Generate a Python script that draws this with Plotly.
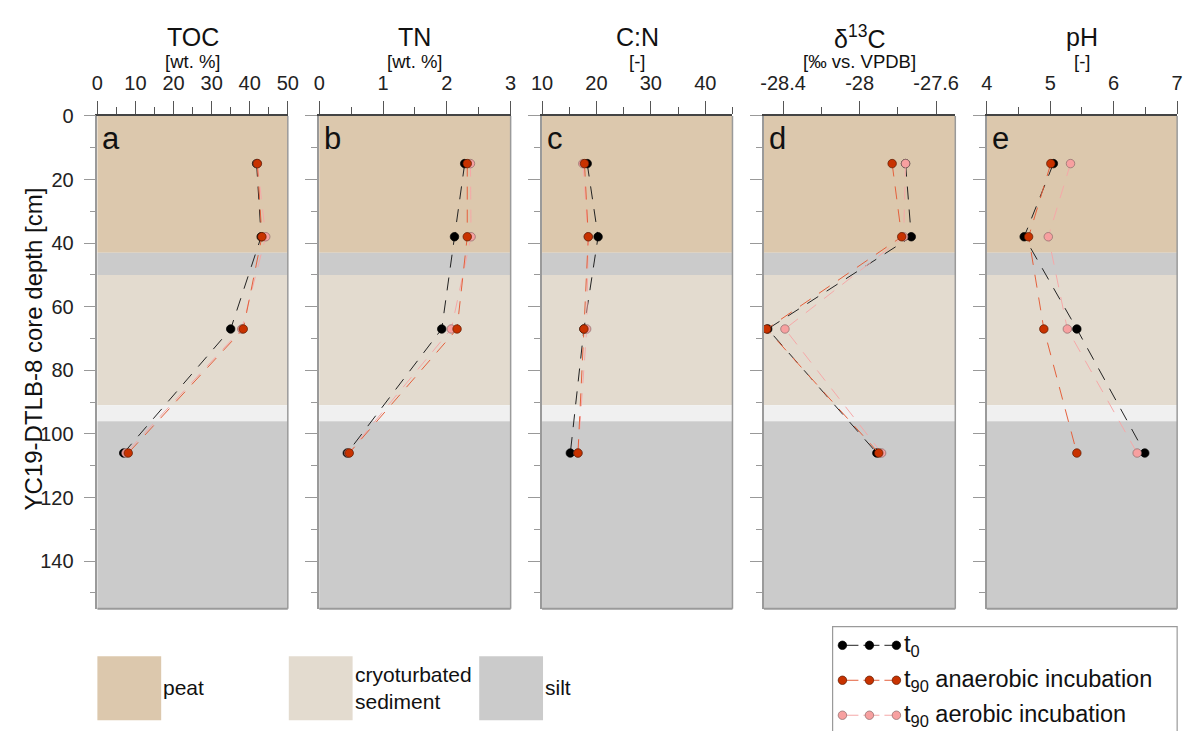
import plotly.graph_objects as go

# ---------------- data ----------------
depth = [15, 38, 67, 106]

toc_t0 = [41.8, 43.0, 35.0, 6.9]
toc_an = [42.0, 43.2, 38.3, 8.1]
toc_ae = [42.0, 44.2, 37.9, 7.5]

tn_t0 = [2.28, 2.12, 1.92, 0.44]
tn_an = [2.32, 2.32, 2.16, 0.47]
tn_ae = [2.37, 2.38, 2.07, 0.46]

cn_t0 = [18.3, 20.3, 17.7, 15.2]
cn_an = [17.8, 18.5, 17.7, 16.6]
cn_ae = [17.5, 18.5, 18.2, 16.6]

d13c_t0 = [-27.76, -27.73, -28.48, -27.91]
d13c_an = [-27.83, -27.78, -28.485, -27.90]
d13c_ae = [-27.76, -27.77, -28.39, -27.885]

ph_t0 = [5.05, 4.59, 5.42, 6.49]
ph_an = [5.01, 4.66, 4.90, 5.42]
ph_ae = [5.32, 4.97, 5.27, 6.37]

panel_titles = ["TOC", "TN", "C:N", "δ<sup>13</sup>C", "pH"]
panel_units = ["[wt. %]", "[wt. %]", "[-]", "[‰ vs. VPDB]", "[-]"]
panel_letters = ["a", "b", "c", "d", "e"]
x_ranges = [[0, 50], [0, 3], [10, 45], [-28.5, -27.5], [4, 7]]
x_tickvals = [[0, 10, 20, 30, 40, 50], [0, 1, 2, 3], [10, 20, 30, 40],
              [-28.4, -28.0, -27.6], [4, 5, 6, 7]]
x_ticktext = [["0", "10", "20", "30", "40", "50"], ["0", "1", "2", "3"],
              ["10", "20", "30", "40"], ["-28.4", "-28", "-27.6"],
              ["4", "5", "6", "7"]]
x_minor = [[5, 15, 25, 35, 45], [0.5, 1.5, 2.5], [15, 25, 35, 45],
           [-28.2, -27.8], [4.5, 5.5, 6.5]]
y_tickvals = [0, 20, 40, 60, 80, 100, 120, 140]
y_minor = [10, 30, 50, 70, 90, 110, 130, 150]
y_range = [155, 0]

band_top = [0, 43, 50, 91, 96]
band_bottom = [43, 50, 91, 96, 155]
band_color = ["#dcc8ad", "#cbcbcb", "#e3dbcf", "#f0f0f0", "#cbcbcb"]

litho_names = ["peat", "cryoturbated<br>sediment", "silt"]
litho_colors = ["#dcc8ad", "#e3dbcf", "#cbcbcb"]

series_names = ["t<sub>0</sub>", "t<sub>90</sub> anaerobic incubation",
                "t<sub>90</sub> aerobic incubation"]
series_fill = ["#000000", "#c83200", "#f7a0a0"]
series_line = ["#222222", "#e4603c", "#f5a8a8"]
series_edge = ["#000000", "#5a1a00", "#8a6a6a"]

panel_data = [
    [toc_t0, toc_an, toc_ae],
    [tn_t0, tn_an, tn_ae],
    [cn_t0, cn_an, cn_ae],
    [d13c_t0, d13c_an, d13c_ae],
    [ph_t0, ph_an, ph_ae],
]
draw_order = [0, 2, 1]

# ---------------- layout helpers ----------------
W, H = 1196, 731
FONT = "Liberation Sans, Arial, sans-serif"


def fx(p):
    return p / W


def fy(p):
    return 1 - p / H


panel_left = [88, 314, 541, 767, 994]
panel_right = [282, 509, 735, 962, 1188]
panel_top, panel_bottom = 106.5, 607

fig = go.Figure()
shapes = []
annotations = []

for i in range(5):
    n = i + 1
    sfx = "" if n == 1 else str(n)
    xname, yname = "x" + sfx, "y" + sfx
    for k in draw_order:
        fig.add_trace(go.Scatter(
            x=panel_data[i][k], y=depth, xaxis=xname, yaxis=yname,
            mode="lines+markers", showlegend=False,
            line=dict(color=series_line[k], width=1, dash="13px,10px"),
            marker=dict(size=8.5, color=series_fill[k],
                        line=dict(color=series_edge[k], width=0.7)),
        ))
    fig.layout["xaxis" + sfx] = dict(
        domain=[fx(panel_left[i]), fx(panel_right[i])], anchor=yname,
        side="top", range=x_ranges[i], tickmode="array",
        tickvals=x_tickvals[i], ticktext=x_ticktext[i],
        ticks="outside", ticklen=13, tickwidth=1, tickcolor="#555555",
        minor=dict(tickmode="array", tickvals=x_minor[i], ticks="outside",
                   ticklen=7, tickwidth=1, tickcolor="#555555"),
        showline=True, linecolor="#444444", linewidth=1.5,
        showgrid=False, zeroline=False, fixedrange=True,
        tickfont=dict(family=FONT, size=20, color="#222222"),
        ticklabelstandoff=3,
    )
    fig.layout["yaxis" + sfx] = dict(
        domain=[fy(panel_bottom), fy(panel_top)], anchor=xname,
        range=y_range, tickmode="array", tickvals=y_tickvals,
        ticks="outside", ticklen=12, tickwidth=1.2, tickcolor="#999999",
        minor=dict(tickmode="array", tickvals=y_minor, ticks="outside",
                   ticklen=6, tickwidth=1, tickcolor="#999999"),
        showticklabels=(n == 1), showline=True, linecolor="#9a9a9a",
        linewidth=1.5, showgrid=False, zeroline=False, fixedrange=True,
        tickfont=dict(family=FONT, size=20, color="#222222"),
        ticklabelstandoff=6,
    )
    # lithology bands
    for t, b, c in zip(band_top, band_bottom, band_color):
        shapes.append(dict(type="rect", xref=xname + " domain", yref=yname,
                           x0=0, x1=1, y0=t, y1=b, fillcolor=c,
                           line=dict(width=0), layer="below"))
    # right & bottom frame
    shapes.append(dict(type="line", xref=xname + " domain", yref=yname + " domain",
                       x0=1, x1=1, y0=0, y1=1,
                       line=dict(color="#9a9a9a", width=1.5), layer="above"))
    shapes.append(dict(type="line", xref=xname + " domain", yref=yname + " domain",
                       x0=0, x1=1, y0=0, y1=0,
                       line=dict(color="#9a9a9a", width=2), layer="above"))
    cx = (panel_left[i] + panel_right[i]) / 2
    annotations.append(dict(text=panel_titles[i], x=fx(cx), y=fy(26),
                            xref="paper", yref="paper", showarrow=False,
                            xanchor="center", yanchor="middle",
                            font=dict(family=FONT, size=25, color="#111111")))
    annotations.append(dict(text=panel_units[i], x=fx(cx), y=fy(51),
                            xref="paper", yref="paper", showarrow=False,
                            xanchor="center", yanchor="middle",
                            font=dict(family=FONT, size=18.5, color="#111111")))
    annotations.append(dict(text=panel_letters[i], x=fx(panel_left[i] + 3),
                            y=fy(110), xref="paper", yref="paper",
                            showarrow=False, xanchor="left", yanchor="top",
                            font=dict(family=FONT, size=31, color="#111111")))

annotations.append(dict(text="YC19-DTLB-8 core depth [cm]", x=fx(23), y=fy(343),
                        xref="paper", yref="paper", showarrow=False,
                        textangle=-90, xanchor="center", yanchor="middle",
                        font=dict(family=FONT, size=24, color="#111111")))

# lithology key
litho_left = [88, 283, 477]
for j, (name, col) in enumerate(zip(litho_names, litho_colors)):
    shapes.append(dict(type="rect", xref="paper", yref="paper",
                       x0=fx(litho_left[j]), x1=fx(litho_left[j] + 65),
                       y0=fy(720), y1=fy(655), fillcolor=col,
                       line=dict(width=0)))
    annotations.append(dict(text=name, x=fx(litho_left[j] + 65), y=fy(687),
                            xref="paper", yref="paper", showarrow=False,
                            xanchor="left", yanchor="middle", align="left",
                            font=dict(family=FONT, size=21, color="#111111")))

# series key (own small axes)
leg_x0, leg_x1, leg_y0, leg_y1 = 837, 1188, 625, 736
shapes.append(dict(type="rect", xref="paper", yref="paper",
                   x0=fx(leg_x0), x1=fx(leg_x1), y0=fy(leg_y1), y1=fy(leg_y0),
                   fillcolor="white", line=dict(color="#9a9a9a", width=1.2),
                   layer="below"))
key_x = [0, 1, 2]
for k in range(3):
    fig.add_trace(go.Scatter(
        x=key_x, y=[k] * 3, xaxis="x6", yaxis="y6", mode="lines+markers",
        showlegend=False,
        line=dict(color=series_line[k], width=1, dash="16px,5px"),
        marker=dict(size=8.5, color=series_fill[k],
                    line=dict(color=series_edge[k], width=0.7)),
    ))
    annotations.append(dict(text=series_names[k], x=2.2, y=k, xref="x6",
                            yref="y6", showarrow=False, xanchor="left",
                            yanchor="middle",
                            font=dict(family=FONT, size=23.5, color="#111111")))
# key markers at 847 / 874 / 902 px, rows at 644 / 680 / 715 px
key_top, key_bottom = 625, 731
fig.layout["xaxis6"] = dict(domain=[fx(leg_x0), fx(leg_x1)], anchor="y6",
                            range=[-(847 - leg_x0) / 27.5, (leg_x1 - 847) / 27.5],
                            visible=False, fixedrange=True)
fig.layout["yaxis6"] = dict(domain=[fy(key_bottom), fy(key_top)], anchor="x6",
                            range=[(key_bottom - 644) / 35.5, -(644 - key_top) / 35.5],
                            visible=False, fixedrange=True)

fig.update_layout(
    width=W, height=H, margin=dict(l=0, r=0, t=0, b=0),
    paper_bgcolor="white", plot_bgcolor="rgba(0,0,0,0)",
    shapes=shapes, annotations=annotations, showlegend=False,
    font=dict(family=FONT, color="#111111"),
)

fig.write_html("out.html", config={"displayModeBar": False})
